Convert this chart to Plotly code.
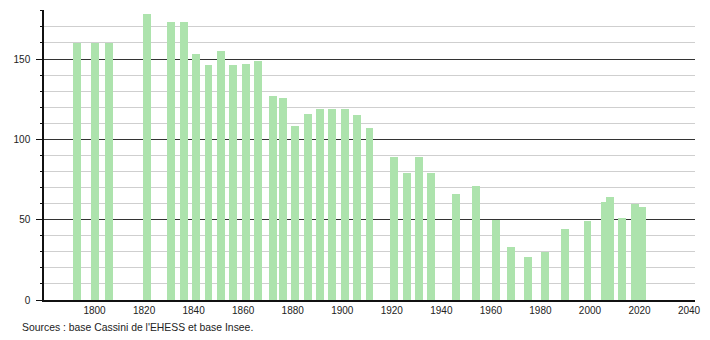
import plotly.graph_objects as go

years = [1793, 1800, 1806, 1821, 1831, 1836, 1841, 1846, 1851, 1856, 1861, 1866,
         1872, 1876, 1881, 1886, 1891, 1896, 1901, 1906, 1911, 1921, 1926, 1931,
         1936, 1946, 1954, 1962, 1968, 1975, 1982, 1990, 1999, 2006, 2008, 2013,
         2018, 2021]
population = [160, 160, 160, 178, 173, 173, 153, 146, 155, 146, 147, 149,
              127, 126, 108, 116, 119, 119, 119, 115, 107, 89, 79, 89,
              79, 66, 71, 50, 33, 27, 30, 44, 49, 61, 64, 51,
              60, 58]
x_ticks = [1800, 1820, 1840, 1860, 1880, 1900, 1920, 1940, 1960, 1980, 2000, 2020, 2040]
y_ticks = [0, 50, 100, 150]
source_text = "Sources : base Cassini de l'EHESS et base Insee."

fig = go.Figure()
fig.add_trace(go.Bar(
    x=years, y=population, width=3.2,
    marker=dict(color="#ade3ad", line=dict(width=0)),
    hoverinfo="x+y",
))

fig.update_layout(
    width=710, height=340,
    margin=dict(l=44, r=9, t=10, b=40),
    paper_bgcolor="white", plot_bgcolor="white",
    font=dict(family="Liberation Sans, Arial, sans-serif", size=10, color="#222"),
    showlegend=False,
    bargap=0,
    xaxis=dict(
        range=[1779.6, 2042.4],
        tickvals=x_ticks,
        ticktext=[str(v) for v in x_ticks],
        showgrid=False, zeroline=False,
        showline=True, linecolor="#111", linewidth=1.5,
        ticks="", ticklen=0,
    ),
    yaxis=dict(
        range=[0, 180.5],
        tickvals=y_ticks,
        showgrid=True, gridcolor="#333", gridwidth=1,
        zeroline=False,
        showline=True, linecolor="#111", linewidth=1.5,
        ticks="outside", ticklen=6, tickcolor="#111",
        ticklabelstandoff=4,
        minor=dict(dtick=10, tick0=0, showgrid=True, gridcolor="#cfcfcf",
                   gridwidth=1, ticks="outside", ticklen=2, tickcolor="#111"),
    ),
    annotations=[dict(
        text=source_text, x=20, y=327, xref="paper", yref="paper",
        showarrow=False, xanchor="left", yanchor="middle",
        font=dict(size=10.4, color="#222"),
    )],
)
# place annotation in pixel terms
fig.layout.annotations[0].update(x=(20 - 44) / (710 - 44 - 9), y=(300 - 327) / 290.0)

fig.write_html("out.html")
